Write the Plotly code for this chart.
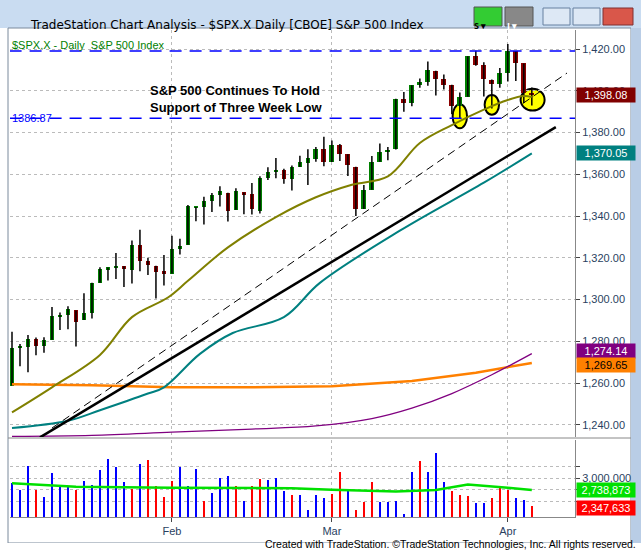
import plotly.graph_objects as go

dates = ["Jan 3","Jan 4","Jan 5","Jan 6","Jan 9","Jan 10","Jan 11","Jan 12","Jan 13","Jan 17","Jan 18","Jan 19","Jan 20","Jan 23","Jan 24","Jan 25","Jan 26","Jan 27","Jan 30","Jan 31",
 "Feb 1","Feb 2","Feb 3","Feb 6","Feb 7","Feb 8","Feb 9","Feb 10","Feb 13","Feb 14","Feb 15","Feb 16","Feb 17","Feb 21","Feb 22","Feb 23","Feb 24","Feb 27","Feb 28","Feb 29",
 "Mar 1","Mar 2","Mar 5","Mar 6","Mar 7","Mar 8","Mar 9","Mar 12","Mar 13","Mar 14","Mar 15","Mar 16","Mar 19","Mar 20","Mar 21","Mar 22","Mar 23","Mar 26","Mar 27","Mar 28","Mar 29","Mar 30",
 "Apr 2","Apr 3","Apr 4","Apr 5"]
opens = [1258.86,1277.03,1277.30,1280.93,1277.83,1280.77,1292.02,1292.48,1294.82,1290.22,1293.65,1308.07,1314.49,1315.29,1315.96,1314.40,1326.28,1318.25,1316.16,1313.53,
 1312.45,1324.24,1326.21,1344.32,1344.33,1347.04,1349.97,1351.21,1343.06,1351.30,1350.52,1342.61,1358.06,1361.22,1362.11,1357.53,1363.46,1365.20,1367.56,1372.20,
 1365.90,1374.09,1369.59,1363.63,1343.39,1352.65,1365.97,1370.78,1371.92,1395.95,1394.17,1402.55,1404.17,1409.59,1405.52,1402.89,1392.78,1397.11,1416.55,1412.52,1405.39,1403.31,
 1408.47,1418.98,1413.09,1398.79]
highs = [1284.62,1278.73,1283.05,1281.84,1281.99,1296.46,1293.80,1296.82,1294.82,1303.00,1308.11,1315.49,1315.38,1322.28,1315.96,1328.30,1333.47,1320.06,1316.16,1321.41,
 1330.52,1329.19,1345.34,1344.36,1349.24,1351.00,1354.32,1351.21,1353.35,1351.30,1355.87,1359.02,1363.40,1367.76,1362.70,1364.24,1368.92,1371.94,1373.09,1378.04,
 1376.17,1374.53,1369.59,1363.63,1354.85,1368.72,1374.76,1373.04,1396.13,1399.42,1402.63,1405.88,1414.00,1409.59,1407.75,1402.89,1399.18,1416.58,1419.15,1413.65,1405.39,1410.89,
 1422.38,1419.00,1413.09,1401.60]
lows = [1258.86,1268.10,1265.26,1273.34,1274.55,1280.77,1285.41,1285.77,1277.58,1290.22,1290.99,1308.07,1309.17,1309.89,1306.06,1307.65,1313.60,1311.72,1300.49,1306.69,
 1312.45,1321.57,1326.21,1337.52,1335.92,1341.95,1344.63,1337.35,1343.06,1340.83,1340.80,1341.22,1357.24,1358.11,1355.53,1352.28,1363.46,1354.92,1365.97,1363.81,
 1365.90,1366.42,1359.13,1340.03,1343.39,1352.65,1365.97,1366.69,1371.92,1389.97,1392.59,1401.47,1402.43,1397.68,1400.64,1388.73,1386.87,1397.11,1411.95,1397.20,1391.56,1401.42,
 1404.46,1404.62,1394.09,1392.92]
closes = [1277.06,1277.30,1281.06,1277.81,1280.70,1292.08,1292.48,1295.50,1289.09,1293.67,1308.04,1314.50,1315.38,1316.00,1314.65,1326.06,1318.43,1316.33,1313.01,1312.41,
 1324.09,1325.54,1344.90,1344.33,1347.05,1349.96,1351.95,1342.64,1351.77,1350.50,1343.23,1358.04,1361.23,1362.21,1357.66,1363.46,1365.74,1367.59,1372.18,1365.68,
 1374.09,1369.63,1364.33,1343.36,1352.63,1365.91,1370.87,1371.09,1395.95,1394.28,1402.60,1404.17,1409.75,1405.52,1402.89,1392.78,1397.11,1416.51,1412.52,1405.54,1403.28,1408.47,
 1419.04,1413.38,1398.96,1398.08]
volumes = [2.89,2.75,3.25,2.75,2.60,3.11,2.83,2.82,2.75,2.93,2.85,3.17,3.40,3.23,2.91,2.76,3.31,3.38,2.82,2.60,2.94,3.23,2.82,3.20,2.51,2.67,3.01,3.05,2.82,2.51,2.83,2.99,2.95,3.00,2.71,2.64,2.64,2.31,2.64,2.58,
 2.65,3.12,2.77,2.31,2.49,2.92,2.49,2.48,2.51,2.22,3.12,3.36,3.14,3.53,2.91,2.72,2.64,2.62,2.47,2.47,2.56,2.78,2.75,2.57,2.53,2.40]
vol_colors = ["blue","blue","blue","red","blue","blue","blue","blue","red","blue","blue","blue","blue","blue","blue","red","blue","red","red","red","red","blue","blue","blue","red","blue","blue","blue","red","blue","red","red","blue","blue","blue","red","blue","blue","blue","blue",
 "red","red","blue","red","red","red","blue","blue","blue","blue","blue","red","blue","blue","blue","red","red","red","blue","blue","red","red","red","blue","blue","red"]

ma20_x = [0,5,11,15,19.5,22,27,33,38,42.5,47,51,55,59,62,64,65]
ma20_y = [1246,1258,1273.5,1291.6,1301,1309,1325,1339.5,1349,1355,1359,1375,1383.6,1391,1395.6,1397.5,1397]
ma50_x = [0,7,11,17,19,23.5,27.6,34,38.5,48.5,59,65]
ma50_y = [1238.5,1242,1247,1255,1258,1274,1284,1291.6,1308,1333,1356,1370.05]
ma200_x = [0,10,20,30,40,50,58,65]
ma200_y = [1259.5,1259,1258,1258,1258.5,1261,1265,1269.65]
mapur_x = [0,10,20,30,38,45,50,55,60,65]
mapur_y = [1234.5,1235,1236.5,1238,1239.5,1243,1248,1255,1264,1274.14]
trend_x = [3.5,68]; trend_y = [1234,1382.6]
dash_x = [5,69.4]; dash_y = [1238.5,1408.5]
vavg_x = [0,8,20,35,40,48,53,57,62,65]
vavg_y = [2.89,2.81,2.79,2.78,2.75,2.71,2.74,2.86,2.79,2.74]
month_ticks = [20,40,62]; month_labels = ["Feb","Mar","Apr"]

n = len(closes)
xs = list(range(n))
up = [c >= o for o, c in zip(opens, closes)]
fig = go.Figure()
wx, wy = [], []
for i in xs:
    wx += [i, i, None]; wy += [lows[i], highs[i], None]
fig.add_trace(go.Scatter(x=wx, y=wy, mode="lines", line=dict(color="black", width=1.5), hoverinfo="skip"))
fig.add_trace(go.Bar(x=xs, base=[min(o, c) for o, c in zip(opens, closes)],
                     y=[max(abs(c - o), 0.5) for o, c in zip(opens, closes)],
                     marker=dict(color=["#008000" if u else "#8b0000" for u in up], line=dict(width=0)),
                     width=0.6))
fig.add_trace(go.Scatter(x=ma200_x, y=ma200_y, mode="lines", line=dict(color="#ff8000", width=2.5)))
fig.add_trace(go.Scatter(x=mapur_x, y=mapur_y, mode="lines", line=dict(color="#800080", width=1.3, shape="spline")))
fig.add_trace(go.Scatter(x=ma50_x, y=ma50_y, mode="lines", line=dict(color="#008080", width=2, shape="spline")))
fig.add_trace(go.Scatter(x=ma20_x, y=ma20_y, mode="lines", line=dict(color="#808000", width=2, shape="spline")))
fig.add_trace(go.Scatter(x=trend_x, y=trend_y, mode="lines", line=dict(color="black", width=2.5)))
fig.add_trace(go.Scatter(x=dash_x, y=dash_y, mode="lines", line=dict(color="black", width=1, dash="8px,5px")))
fig.add_trace(go.Bar(x=xs, y=[v * 1e6 for v in volumes], marker=dict(color=vol_colors[:n], line=dict(width=0)),
                     width=0.28, yaxis="y2"))
fig.add_trace(go.Scatter(x=vavg_x, y=[v * 1e6 for v in vavg_y], mode="lines", line=dict(color="#00e000", width=2.5), yaxis="y2"))

W, H = 641, 559
def px(x): return x / W
def py(y): return 1 - y / H

shapes = [
    dict(type="rect", xref="paper", yref="paper", x0=0, x1=1, y0=py(28), y1=1, fillcolor="#c9dcf1", line=dict(width=0), layer="below"),
    dict(type="rect", xref="paper", yref="paper", x0=px(8), x1=px(631), y0=py(543), y1=py(28), fillcolor="white", line=dict(color="#7a8a9c", width=1), layer="below"),
    dict(type="rect", xref="paper", yref="paper", x0=px(631), x1=px(641), y0=py(543), y1=py(28), fillcolor="#b9cde6", line=dict(width=0), layer="below"),
    dict(type="rect", xref="paper", yref="paper", x0=0, x1=1, y0=0, y1=py(543), fillcolor="white", line=dict(width=0), layer="below"),
    dict(type="line", xref="paper", yref="paper", x0=px(8), x1=px(631), y0=py(438), y1=py(438), line=dict(color="#888", width=1)),
    dict(type="rect", xref="paper", yref="paper", x0=px(474), x1=px(502), y0=py(26), y1=py(7), fillcolor="#33cc33", line=dict(color="#555", width=1)),
    dict(type="rect", xref="paper", yref="paper", x0=px(505), x1=px(533), y0=py(26), y1=py(7), fillcolor="#888", line=dict(color="#555", width=1)),
    dict(type="rect", xref="paper", yref="paper", x0=px(543), x1=px(570), y0=py(25), y1=py(8), fillcolor="#dde8f5", line=dict(color="#6680a0", width=1)),
    dict(type="rect", xref="paper", yref="paper", x0=px(573), x1=px(600), y0=py(25), y1=py(8), fillcolor="#dde8f5", line=dict(color="#6680a0", width=1)),
    dict(type="rect", xref="paper", yref="paper", x0=px(603), x1=px(633), y0=py(25), y1=py(8), fillcolor="#d9574a", line=dict(color="#803030", width=1)),
    dict(type="line", xref="x", yref="y", x0=-0.3, x1=70.4, y0=1419.04, y1=1419.04, line=dict(color="blue", width=1.5, dash="12px,8px")),
    dict(type="line", xref="x", yref="y", x0=-0.3, x1=70.4, y0=1386.87, y1=1386.87, line=dict(color="blue", width=1.5, dash="12px,8px")),
    dict(type="circle", xref="x", yref="y", x0=55.1, x1=56.9, y0=1382, y1=1393.5, fillcolor="yellow", line=dict(color="black", width=2), layer="below"),
    dict(type="circle", xref="x", yref="y", x0=59.1, x1=60.9, y0=1388.5, y1=1398, fillcolor="yellow", line=dict(color="black", width=2), layer="below"),
    dict(type="circle", xref="x", yref="y", x0=63.6, x1=66.6, y0=1390.5, y1=1401, fillcolor="yellow", line=dict(color="black", width=2), layer="below"),
]

def tag(y, text, bg, fc="white", yref="y"):
    return dict(xref="paper", yref=yref, x=px(576), y=y, text=text, showarrow=False, xanchor="left",
                bgcolor=bg, font=dict(color=fc, size=11, family="Liberation Sans"), borderpad=1, width=56, align="center")

ann = [
    dict(xref="paper", yref="paper", x=px(28), y=py(16), text="TradeStation Chart Analysis - $SPX.X Daily [CBOE] S&P 500 Index",
         showarrow=False, xanchor="left", font=dict(size=12, family="DejaVu Sans", color="black")),
    dict(xref="paper", yref="paper", x=px(488), y=py(17), text="<b>S ▾</b>", showarrow=False, font=dict(size=9, color="black")),
    dict(xref="paper", yref="paper", x=px(519), y=py(17), text="<b>I ▾</b>", showarrow=False, font=dict(size=9, color="white")),
    dict(xref="paper", yref="paper", x=px(10), y=py(37), text="$SPX.X - Daily  S&P 500 Index", showarrow=False, xanchor="left",
         font=dict(size=11, family="Liberation Sans", color="#008000")),
    dict(xref="paper", yref="paper", x=px(10), y=py(110), text="1386.87", showarrow=False, xanchor="left",
         font=dict(size=11, family="Liberation Sans", color="blue")),
    dict(xref="paper", yref="paper", x=px(148), y=py(81), text="<b>S&P 500 Continues To Hold<br>Support of Three Week Low</b>", showarrow=False,
         xanchor="left", align="left", font=dict(size=13, family="Liberation Sans Narrow, Liberation Sans", color="black")),
    dict(xref="paper", yref="paper", x=px(638), y=py(552), text="Created with TradeStation. ©TradeStation Technologies, Inc. All rights reserved.",
         showarrow=False, xanchor="right", font=dict(size=10.5, family="Liberation Sans Narrow, Liberation Sans", color="black")),
    tag(1398.08, "1,398.08", "#800000"),
    tag(1370.05, "1,370.05", "#008080"),
    tag(1275.6, "1,274.14", "#800080"),
    tag(1268.6, "1,269.65", "#ff8000", "black"),
    tag(2.738873e6, "2,738,873", "#00e000", yref="y2"),
    tag(2.347633e6, "2,347,633", "#ff0000", yref="y2"),
]

fig.update_layout(
    width=W, height=H, margin=dict(l=0, r=0, t=0, b=0), showlegend=False,
    paper_bgcolor="white", plot_bgcolor="rgba(0,0,0,0)", barmode="overlay", bargap=0,
    shapes=shapes, annotations=ann,
    xaxis=dict(domain=[px(10), px(575)], range=[-0.25, 70.4], tickvals=month_ticks, ticktext=month_labels,
               showgrid=True, gridcolor="#bbb", griddash="dot", anchor="y2", ticks="outside", ticklen=4,
               tickfont=dict(size=11, family="Liberation Sans"), showline=True, linecolor="#888", zeroline=False),
    yaxis=dict(domain=[py(437), py(30)], range=[1234.2, 1429.1], side="right", tickvals=list(range(1240, 1421, 20)),
               tickformat=",.2f", showgrid=True, gridcolor="#bbb", griddash="dot", ticks="outside", ticklen=4,
               showline=True, linecolor="#888", tickfont=dict(size=11, family="Liberation Sans"), zeroline=False),
    yaxis2=dict(domain=[py(517), py(440)], range=[2.16e6, 3.82e6], side="right", tickvals=[2.5e6, 2.75e6, 3e6, 3.25e6],
                ticktext=["", "", "3,000,000", ""], showgrid=True, gridcolor="#bbb", griddash="dot", ticks="outside", ticklen=4,
                showline=True, linecolor="#888", tickfont=dict(size=11, family="Liberation Sans"), zeroline=False),
)
fig.write_html("out.html", config={"displayModeBar": False},
               post_script="document.body.style.margin='0';document.body.style.overflow='hidden';")
